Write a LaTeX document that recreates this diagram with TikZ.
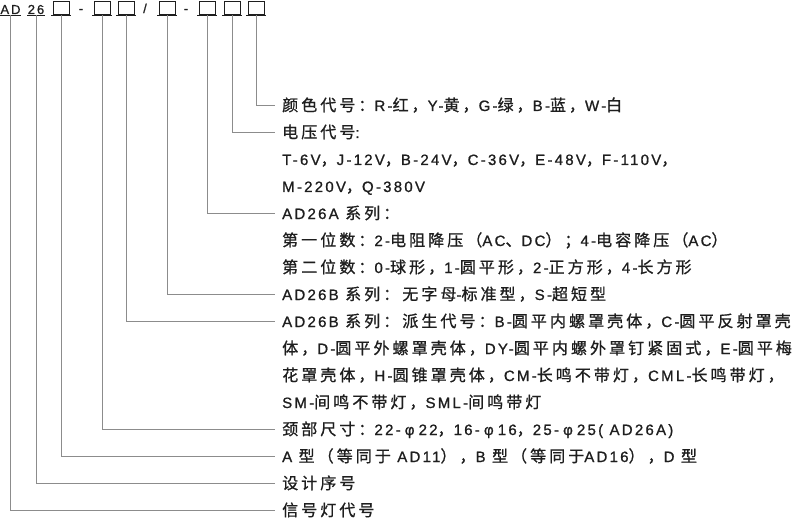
\documentclass[tikz,border=0pt]{standalone}
\usepackage{fontspec}
\setmainfont{Liberation Sans}[LetterSpace=15, FakeBold=1]
\newfontfamily\cjkfont{Noto Sans CJK SC}[Scale=1.07, LetterSpace=18.75, FakeBold=0.9]
\usetikzlibrary{positioning}

% ideographs and full-width signs are set in the CJK font
\newcount\cjkcode
\chardef\cjkclass=10
\def\cjkrange#1#2{\cjkcode=#1
  \loop\XeTeXcharclass\cjkcode=\cjkclass
  \ifnum\cjkcode<#2 \advance\cjkcode by 1 \repeat}
\cjkrange{"4E00}{"9FFF}
\cjkrange{"3000}{"303F}
\cjkrange{"FF00}{"FFEF}
\XeTeXinterchartokenstate=1
\XeTeXinterchartoks 0 \cjkclass={\cjkfont}
\XeTeXinterchartoks 4095 \cjkclass={\cjkfont}
\XeTeXinterchartoks \cjkclass 0={\rmfamily}
\XeTeXinterchartoks \cjkclass 4095={\rmfamily}

% a diameter sign in a full-width cell
\newcommand\dia{\makebox[18bp]{φ}}

\definecolor{ink}{HTML}{1E1E1E}
\definecolor{leadgray}{HTML}{8C8C8C}

\tikzstyle{row} = [anchor=west, inner sep=0pt, text height=14bp, text depth=2bp, text=ink, font=\fontsize{15bp}{18bp}\selectfont]
\tikzstyle{head} = [inner xsep=0.5bp, inner ysep=1bp, text height=10bp, text depth=0pt, text=ink, font=\fontsize{13bp}{15bp}\selectfont]
\tikzstyle{slot} = [rectangle, draw=ink, line width=1bp, minimum width=16bp, minimum height=13bp, inner sep=0pt]
\tikzstyle{lead} = [draw=leadgray, line width=0.9bp]

\begin{document}
\begin{tikzpicture}[x=1bp, y=-1bp, node distance=27bp]
        \useasboundingbox (0,0) rectangle (799,519);
        % model code
        \node[head] (ad) at (10.5,9) {AD};
        \node[head] (num) at (36,9) {26};
        \draw[ink, line width=1bp] (ad.south west) -- (ad.south east);
        \draw[ink, line width=1bp] (num.south west) -- (num.south east);
        \foreach \n/\x in {1/61, 2/102, 3/126, 4/167, 5/207, 6/232, 7/256} {
            \node[slot] (b\n) at (\x,8.5) {};
            \draw[ink, line width=1.4bp] ([xshift=-1.5bp]b\n.south west) -- ([xshift=1.5bp]b\n.south east);
        }
        \node[head] (dash1) at (81,8) {-};
        \node[head] (slash) at (145,8) {/};
        \node[head] (dash2) at (186,8) {-};

        % meaning of each part
        \node[row] (color) at (282,105) {颜色代号：R-红，Y-黄，G-绿，B-蓝，W-白};
        \node[below=of color.west, row] (volt) {电压代号:};
        \node[below=of volt.west, row] (voltA) {T-6V，J-12V，B-24V，C-36V，E-48V，F-110V，};
        \node[below=of voltA.west, row] (voltB) {M-220V，Q-380V};
        \node[below=of voltB.west, row] (seriesA) {AD26A 系列：};
        \node[below=of seriesA.west, row] (digitA) {第一位数：2-电阻降压（AC、DC）；4-电容降压（AC）};
        \node[below=of digitA.west, row] (digitB) {第二位数：0-球形，1-圆平形，2-正方形，4-长方形};
        \node[below=of digitB.west, row] (seriesB) {AD26B 系列：无字母-标准型，S-超短型};
        \node[below=of seriesB.west, row] (derive) {AD26B 系列：派生代号：B-圆平内螺罩壳体，C-圆平反射罩壳};
        \node[below=of derive.west, row] (deriveA) {体，D-圆平外螺罩壳体，DY-圆平内螺外罩钉紧固式，E-圆平梅};
        \node[below=of deriveA.west, row] (deriveB) {花罩壳体，H-圆锥罩壳体，CM-长鸣不带灯，CML-长鸣带灯，};
        \node[below=of deriveB.west, row] (deriveC) {SM-间鸣不带灯，SML-间鸣带灯};
        \node[below=of deriveC.west, row] (neck) {颈部尺寸：22-\dia 22，16-\dia 16，25-\dia 25( AD26A)};
        \node[below=of neck.west, row] (shape) {A 型（等同于 AD11），B 型（等同于AD16），D 型};
        \node[below=of shape.west, row] (design) {设计序号};
        \node[below=of design.west, row] (code) {信号灯代号};

        % leaders
        \draw[lead] (b7.south) |- ([xshift=-7bp]color.west);
        \draw[lead] (b6.south) |- ([xshift=-7bp]volt.west);
        \draw[lead] (b5.south) |- ([xshift=-7bp]seriesA.west);
        \draw[lead] (b4.south) |- ([xshift=-7bp]seriesB.west);
        \draw[lead] (b3.south) |- ([xshift=-7bp]derive.west);
        \draw[lead] (b2.south) |- ([xshift=-7bp]neck.west);
        \draw[lead] (b1.south) |- ([xshift=-7bp]shape.west);
        \draw[lead] (num.south) |- ([xshift=-7bp]design.west);
        \draw[lead] (ad.south) |- ([xshift=-7bp]code.west);
\end{tikzpicture}
\end{document}
